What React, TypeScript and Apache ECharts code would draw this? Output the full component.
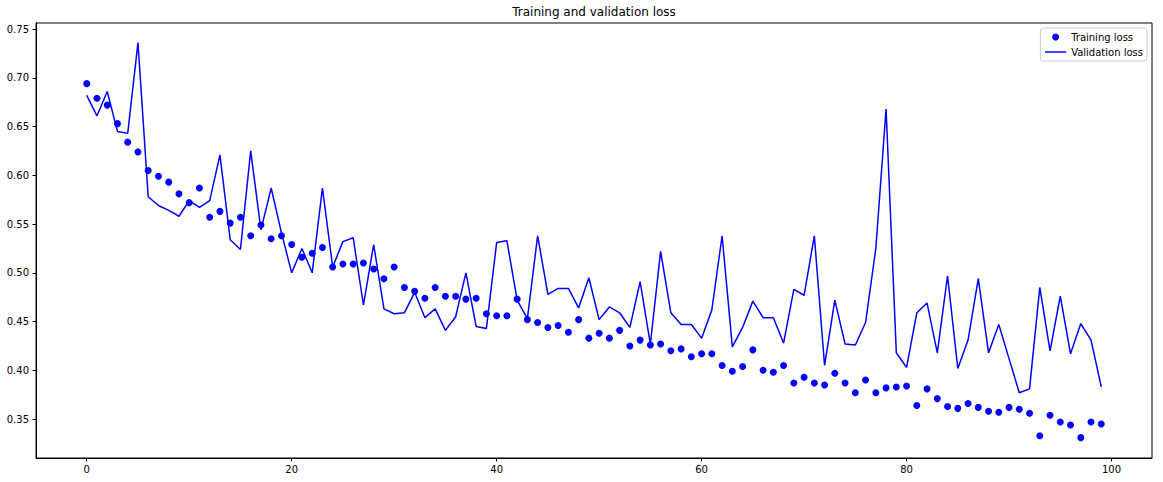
import React, { useEffect, useRef } from "react";
import * as echarts from "echarts";

const trainingLoss: number[] = [
  0.694, 0.679, 0.672, 0.653, 0.634, 0.624, 0.605, 0.599, 0.593, 0.581,
  0.572, 0.587, 0.557, 0.563, 0.551, 0.557, 0.538, 0.549, 0.535, 0.538,
  0.529, 0.516, 0.52, 0.526, 0.506, 0.509, 0.509, 0.51, 0.504, 0.494,
  0.506, 0.485, 0.481, 0.474, 0.485, 0.476, 0.476, 0.473, 0.474, 0.458,
  0.456, 0.456, 0.473, 0.452, 0.449, 0.444, 0.446, 0.439, 0.452, 0.433,
  0.438, 0.433, 0.441, 0.425, 0.431, 0.426, 0.427, 0.42, 0.422, 0.414,
  0.417, 0.417, 0.405, 0.399, 0.404, 0.421, 0.4, 0.398, 0.405, 0.387,
  0.393, 0.387, 0.385, 0.397, 0.387, 0.377, 0.39, 0.377, 0.382, 0.383,
  0.384, 0.364, 0.381, 0.371, 0.363, 0.361, 0.366, 0.362, 0.358, 0.357,
  0.362, 0.36, 0.356, 0.333, 0.354, 0.347, 0.344, 0.331, 0.347, 0.345,
];

const validationLoss: number[] = [
  0.682, 0.661, 0.686, 0.645, 0.643, 0.736, 0.578, 0.569, 0.564, 0.558,
  0.574, 0.567, 0.574, 0.621, 0.534, 0.524, 0.625, 0.544, 0.587, 0.541,
  0.5, 0.525, 0.5, 0.587, 0.506, 0.532, 0.536, 0.467, 0.529, 0.463,
  0.458, 0.459, 0.48, 0.454, 0.463, 0.441, 0.455, 0.5, 0.445, 0.443,
  0.531, 0.533, 0.472, 0.453, 0.538, 0.478, 0.484, 0.484, 0.464, 0.495,
  0.452, 0.465, 0.459, 0.444, 0.491, 0.427, 0.522, 0.459, 0.447, 0.447,
  0.433, 0.462, 0.538, 0.424, 0.444, 0.471, 0.454, 0.454, 0.428, 0.483,
  0.477, 0.538, 0.405, 0.472, 0.427, 0.426, 0.449, 0.525, 0.668, 0.418,
  0.403, 0.459, 0.469, 0.418, 0.497, 0.402, 0.431, 0.494, 0.418, 0.447,
  0.412, 0.377, 0.381, 0.485, 0.42, 0.476, 0.417, 0.448, 0.431, 0.383,
];

const epochs: number[] = trainingLoss.map((_, i) => i);

const xTicks: number[] = [0, 20, 40, 60, 80, 100];
const yTicks: number[] = [0.35, 0.4, 0.45, 0.5, 0.55, 0.6, 0.65, 0.7, 0.75];

const FONT = "DejaVu Sans";

export default function App() {
  const ref = useRef<HTMLDivElement>(null);

  useEffect(() => {
    document.body.style.margin = "0";
    const chart = echarts.init(ref.current!, null, { renderer: "svg" });
    chart.setOption({
      animation: false,
      backgroundColor: "#ffffff",
      title: {
        text: "Training and validation loss",
        left: 594,
        textAlign: "center",
        top: 6,
        padding: 0,
        textStyle: {
          fontSize: 12,
          fontWeight: "normal",
          color: "#000",
          fontFamily: FONT,
        },
      },
      legend: {
        orient: "vertical",
        right: 16,
        top: 28,
        itemWidth: 21,
        itemHeight: 7,
        itemGap: 3,
        padding: [3, 4, 3, 4],
        borderColor: "#cccccc",
        borderWidth: 1,
        borderRadius: 3,
        backgroundColor: "rgba(255,255,255,0.8)",
        textStyle: { fontSize: 10, fontFamily: FONT, color: "#000", lineHeight: 12 },
        data: [
          { name: "Training loss", icon: "circle", itemStyle: { color: "#0000ff", opacity: 1 } },
          { name: "Validation loss", itemStyle: { opacity: 0 }, lineStyle: { color: "#0000ff", width: 1.5 } },
        ],
      },
      grid: {
        left: 36,
        right: 11,
        top: 23,
        bottom: 24,
        show: true,
        borderColor: "#000",
        borderWidth: 1,
        backgroundColor: "transparent",
      },
      xAxis: {
        type: "value",
        min: -4.95,
        max: 103.95,
        axisLine: { show: true, onZero: false, lineStyle: { color: "#000", width: 1 } },
        axisTick: {
          show: true,
          customValues: xTicks,
          length: 3.5,
          lineStyle: { color: "#000" },
        },
        axisLabel: {
          customValues: xTicks,
          fontSize: 10,
          color: "#000",
          fontFamily: FONT,
          margin: 6,
        },
        splitLine: { show: false },
      },
      yAxis: {
        type: "value",
        min: 0.3101,
        max: 0.7562,
        axisLine: { show: true, onZero: false, lineStyle: { color: "#000", width: 1 } },
        axisTick: {
          show: true,
          customValues: yTicks,
          length: 3.5,
          lineStyle: { color: "#000" },
        },
        axisLabel: {
          customValues: yTicks,
          fontSize: 10,
          color: "#000",
          fontFamily: FONT,
          margin: 7,
          formatter: (v: number) => v.toFixed(2),
        },
        splitLine: { show: false },
      },
      series: [
        {
          type: "scatter",
          name: "Training loss",
          data: trainingLoss.map((v, i) => [epochs[i], v]),
          symbol: "circle",
          symbolSize: 7,
          itemStyle: { color: "#0000ff", opacity: 1 },
        },
        {
          type: "line",
          name: "Validation loss",
          data: validationLoss.map((v, i) => [epochs[i], v]),
          symbol: "none",
          lineStyle: { color: "#0000ff", width: 1.5 },
          itemStyle: { color: "#0000ff" },
        },
      ],
    });
    return () => chart.dispose();
  }, []);

  return <div ref={ref} style={{ width: 1163, height: 482 }} />;
}
